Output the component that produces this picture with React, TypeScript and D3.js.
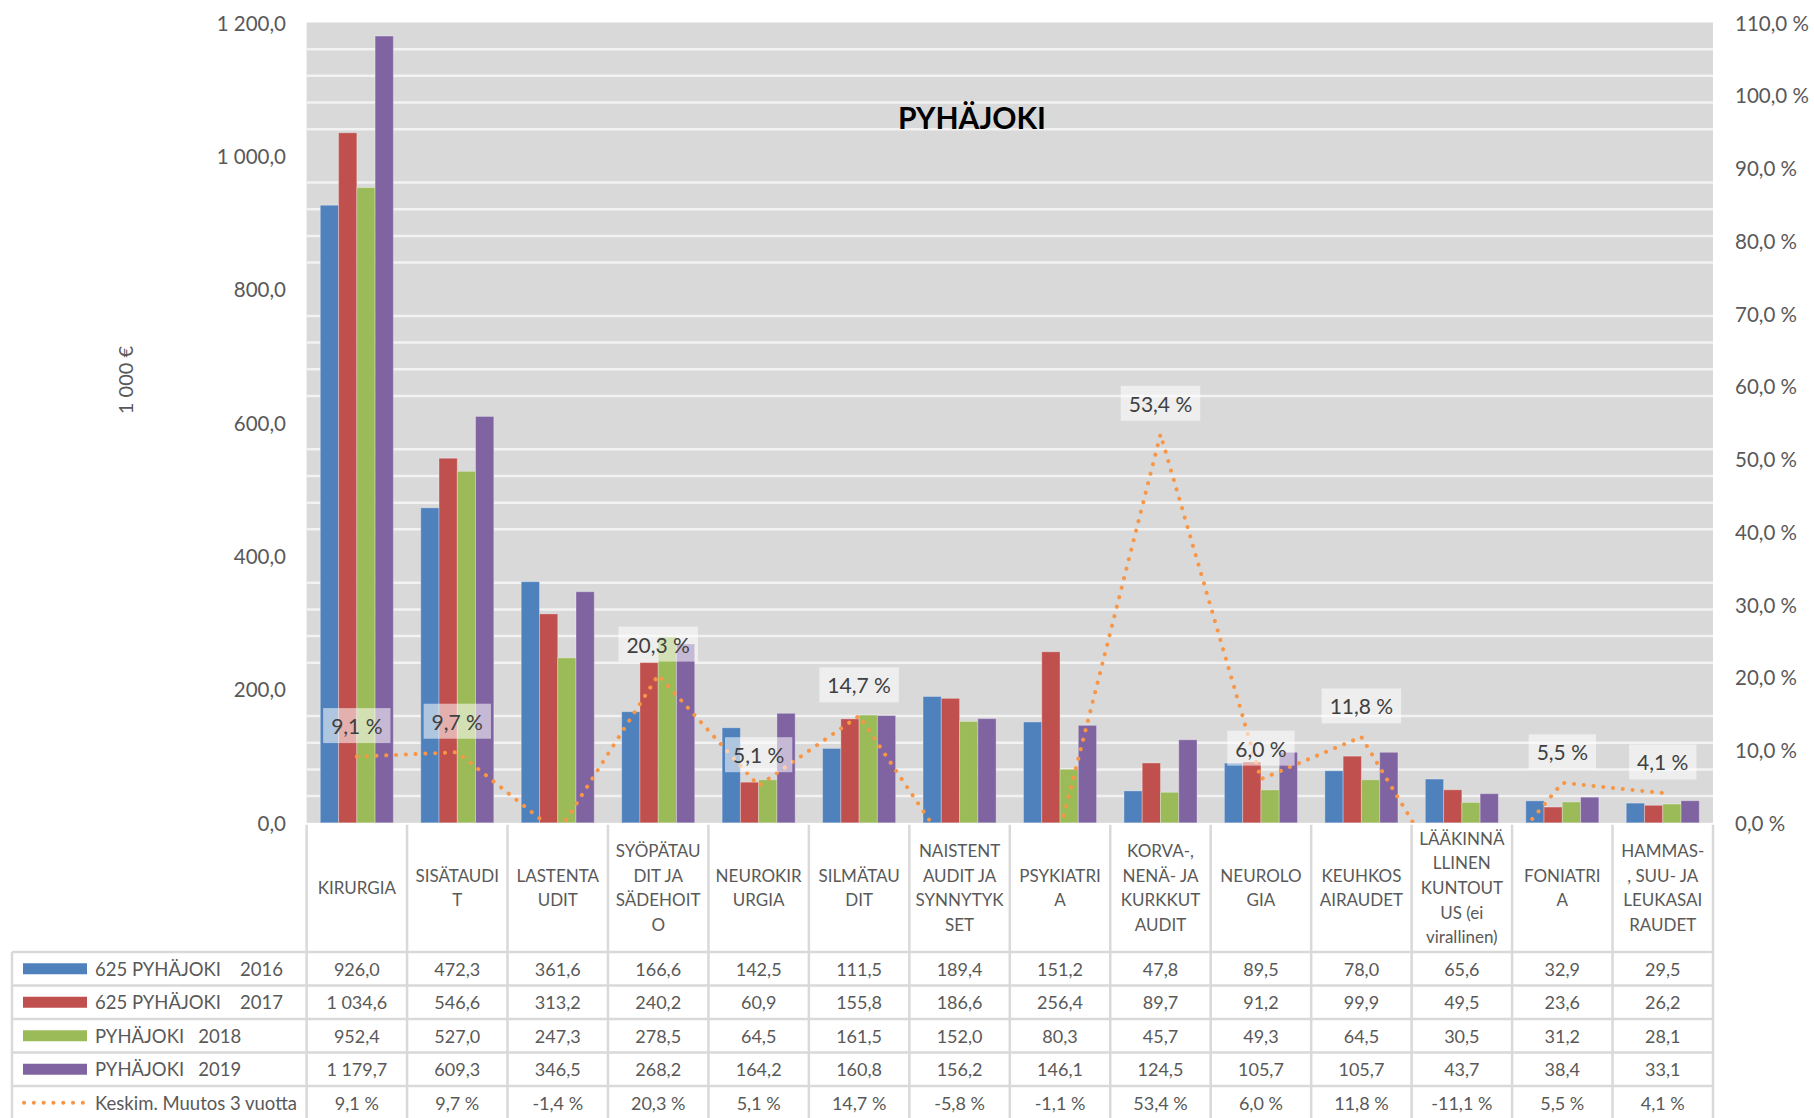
import React from "react";
import * as d3 from "d3";

const categoryLines: string[][] = [
  ["KIRURGIA"],
  ["SISÄTAUDI", "T"],
  ["LASTENTA", "UDIT"],
  ["SYÖPÄTAU", "DIT JA", "SÄDEHOIT", "O"],
  ["NEUROKIR", "URGIA"],
  ["SILMÄTAU", "DIT"],
  ["NAISTENT", "AUDIT JA", "SYNNYTYK", "SET"],
  ["PSYKIATRI", "A"],
  ["KORVA-,", "NENÄ- JA", "KURKKUT", "AUDIT"],
  ["NEUROLO", "GIA"],
  ["KEUHKOS", "AIRAUDET"],
  ["LÄÄKINNÄ", "LLINEN", "KUNTOUT", "US (ei", "virallinen)"],
  ["FONIATRI", "A"],
  ["HAMMAS-", ", SUU- JA", "LEUKASAI", "RAUDET"],
];

const seriesNames = [
  "625 PYHÄJOKI    2016",
  "625 PYHÄJOKI    2017",
  "PYHÄJOKI   2018",
  "PYHÄJOKI   2019",
];
const lineName = "Keskim. Muutos 3 vuotta";

const values2016 = [926.0, 472.3, 361.6, 166.6, 142.5, 111.5, 189.4, 151.2, 47.8, 89.5, 78.0, 65.6, 32.9, 29.5];
const values2017 = [1034.6, 546.6, 313.2, 240.2, 60.9, 155.8, 186.6, 256.4, 89.7, 91.2, 99.9, 49.5, 23.6, 26.2];
const values2018 = [952.4, 527.0, 247.3, 278.5, 64.5, 161.5, 152.0, 80.3, 45.7, 49.3, 64.5, 30.5, 31.2, 28.1];
const values2019 = [1179.7, 609.3, 346.5, 268.2, 164.2, 160.8, 156.2, 146.1, 124.5, 105.7, 105.7, 43.7, 38.4, 33.1];
const changePct = [9.1, 9.7, -1.4, 20.3, 5.1, 14.7, -5.8, -1.1, 53.4, 6.0, 11.8, -11.1, 5.5, 4.1];

const leftTicks = [0, 200, 400, 600, 800, 1000, 1200];
const rightTicks = [0, 10, 20, 30, 40, 50, 60, 70, 80, 90, 100, 110];

const seriesValues = [values2016, values2017, values2018, values2019];
const seriesColors = ["#4F81BD", "#C0504D", "#9BBB59", "#8064A2"];
const lineColor = "#F79646";

const fi = d3.formatLocale({
  decimal: ",",
  thousands: "\u00a0",
  grouping: [3],
  currency: ["", " €"],
  minus: "-",
});
const fmtNum = fi.format(",.1f");
const fmtPct = (v: number) => fi.format(".1f")(v) + " %";

const FONT = "Lato, 'Open Sans', sans-serif";

let ctx: CanvasRenderingContext2D | null = null;
function measure(text: string, font: string) {
  if (!ctx) ctx = document.createElement("canvas").getContext("2d");
  if (!ctx) return text.length * 10;
  ctx.font = font;
  return ctx.measureText(text).width;
}

export default function App() {
  const W = 1814;
  const H = 1118;
  const left = 306.6;
  const right = 1713;
  const top = 22.5;
  const bottom = 822.8;
  const headerBottom = 952;
  const rowH = 33.5;

  const idx = categoryLines.map((_, i) => i);
  const x = d3.scaleBand<number>().domain(idx).range([left, right]).padding(0);
  const bw = x.bandwidth();
  const xs = d3.scaleBand<number>().domain([0, 1, 2, 3]).range([0, bw]).paddingInner(0).paddingOuter(0.75);
  const y = d3.scaleLinear().domain([0, 1200]).range([bottom, top]);
  const y2 = d3.scaleLinear().domain([0, 110]).range([bottom, top]);

  const gridVals = d3.range(40, 1200, 40).filter((v) => v % 200 !== 0);

  const line = d3
    .line<number>()
    .x((_, i) => (x(i) as number) + bw / 2)
    .y((d) => y2(d));

  const tableRows = [...seriesValues.map((v) => v.map(fmtNum)), changePct.map(fmtPct)];
  const rowCenters = d3.range(5).map((r) => headerBottom + rowH * r + rowH / 2);

  const labelFont = `21px ${FONT}`;

  return (
    <div style={{ position: "absolute", left: 0, top: 0 }}>
      <svg width={W} height={H} style={{ display: "block", background: "#fff" }} fontFamily={FONT}>
        <defs>
          <clipPath id="plotClip">
            <rect x={left} y={top} width={right - left} height={bottom - top} />
          </clipPath>
        </defs>
        {/* plot background */}
        <rect x={left} y={top} width={right - left} height={bottom - top} fill="#D9D9D9" />
        {gridVals.map((v) => (
          <line key={v} x1={left} x2={right} y1={y(v)} y2={y(v)} stroke="#F2F2F2" strokeWidth={2.5} />
        ))}

        {/* bars */}
        {seriesValues.map((vals, s) =>
          vals.map((v, i) => (
            <rect
              key={`${s}-${i}`}
              x={(x(i) as number) + (xs(s) as number)}
              y={y(v)}
              width={xs.bandwidth()}
              height={bottom - y(v)}
              fill={seriesColors[s]}
              stroke="rgba(255,255,255,0.3)"
              strokeWidth={1}
            />
          ))
        )}

        {/* line */}
        <g clipPath="url(#plotClip)">
          <path
            d={line(changePct) || ""}
            fill="none"
            stroke={lineColor}
            strokeWidth={4}
            strokeLinecap="round"
            strokeDasharray="0.1 9.7"
          />
        </g>

        {/* data labels */}
        {changePct.map((p, i) => {
          if (p < 0) return null;
          const t = fmtPct(p);
          const tw = measure(t, labelFont);
          const cx = (x(i) as number) + bw / 2;
          const cy = y2(p) - 31;
          const w = tw + 16;
          const h = 35;
          return (
            <g key={`lbl-${i}`}>
              <rect x={cx - w / 2} y={cy - h / 2} width={w} height={h} fill="rgba(255,255,255,0.55)" />
              <text x={cx} y={cy} textAnchor="middle" dominantBaseline="central" fontSize={21} fill="#404040">
                {t}
              </text>
            </g>
          );
        })}

        {/* title */}
        <text x={972} y={117} textAnchor="middle" dominantBaseline="central" fontSize={30} fontWeight="bold" fill="#000">
          PYHÄJOKI
        </text>

        {/* left axis */}
        {leftTicks.map((v) => (
          <text key={v} x={286} y={y(v)} textAnchor="end" dominantBaseline="central" fontSize={20.5} fill="#595959">
            {fmtNum(v)}
          </text>
        ))}
        <text
          transform={`translate(125,380) rotate(-90)`}
          textAnchor="middle"
          dominantBaseline="central"
          fontSize={20}
          fill="#595959"
        >
          1 000 €
        </text>

        {/* right axis */}
        {rightTicks.map((v) => (
          <text key={v} x={1735} y={y2(v)} textAnchor="start" dominantBaseline="central" fontSize={20.5} fill="#595959">
            {fmtPct(v)}
          </text>
        ))}

        {/* table grid */}
        <g stroke="#D9D9D9" strokeWidth={2.5}>
          {d3.range(15).map((k) => {
            const xx = k === 14 ? right : (x(k) as number);
            return <line key={`v${k}`} x1={xx} x2={xx} y1={bottom + 2} y2={H} />;
          })}
          <line x1={12} x2={12} y1={headerBottom} y2={H} />
          {d3.range(5).map((r) => (
            <line key={`h${r}`} x1={12} x2={right} y1={headerBottom + rowH * r} y2={headerBottom + rowH * r} />
          ))}
        </g>

        {/* category headers */}
        {categoryLines.map((lines, i) => {
          const cx = (x(i) as number) + bw / 2;
          const lh = 24.7;
          const cy = (bottom + headerBottom) / 2;
          const y0 = cy - ((lines.length - 1) * lh) / 2;
          return (
            <text key={`c${i}`} textAnchor="middle" fontSize={17} fill="#595959">
              {lines.map((l, j) => (
                <tspan key={j} x={cx} y={y0 + j * lh} dominantBaseline="central" style={{ whiteSpace: "pre" }}>
                  {l}
                </tspan>
              ))}
            </text>
          );
        })}

        {/* table values */}
        {tableRows.map((row, r) =>
          row.map((t, i) => (
            <text
              key={`t${r}-${i}`}
              x={(x(i) as number) + bw / 2}
              y={rowCenters[r]}
              textAnchor="middle"
              dominantBaseline="central"
              fontSize={18}
              fill="#595959"
            >
              {t}
            </text>
          ))
        )}

        {/* legend column */}
        {seriesNames.map((n, s) => (
          <g key={`lg${s}`}>
            <rect x={23} y={rowCenters[s] - 5.5} width={64} height={11} fill={seriesColors[s]} />
            <text
              x={95}
              y={rowCenters[s]}
              dominantBaseline="central"
              fontSize={18.5}
              fill="#595959"
              style={{ whiteSpace: "pre" }}
            >
              {n}
            </text>
          </g>
        ))}
        <line
          x1={24}
          x2={86}
          y1={rowCenters[4]}
          y2={rowCenters[4]}
          stroke={lineColor}
          strokeWidth={4}
          strokeLinecap="round"
          strokeDasharray="0.1 9.7"
        />
        <text x={95} y={rowCenters[4]} dominantBaseline="central" fontSize={18.5} fill="#595959">
          {lineName}
        </text>
      </svg>
    </div>
  );
}
